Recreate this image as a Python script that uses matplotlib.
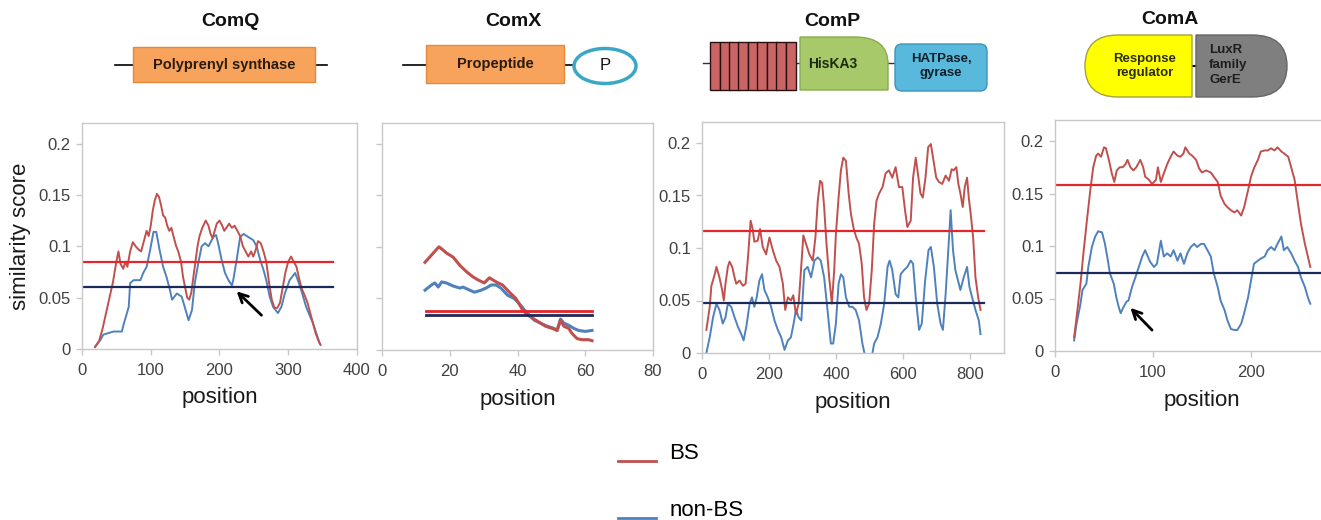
import matplotlib
matplotlib.use("Agg")
import matplotlib.pyplot as plt
from matplotlib.patches import Rectangle, FancyBboxPatch, Ellipse, PathPatch
from matplotlib.path import Path
from matplotlib.lines import Line2D
from matplotlib.legend_handler import HandlerLine2D

plt.rcParams['font.family'] = ['Liberation Sans', 'DejaVu Sans']

# ---- data ----
panel_names = ["ComQ", "ComX", "ComP", "ComA"]

comq_bs_x = [19, 25, 30, 35, 40, 45, 50, 53, 56, 60, 63, 66, 70, 74, 78, 82, 86, 90, 94, 97, 100, 103, 106, 109,
             112, 115, 118, 121, 124, 127, 130, 133, 137, 140, 144, 147, 150, 153, 156, 159, 162, 165, 168, 171,
             175, 180, 184, 187, 190, 193, 196, 200, 204, 207, 210, 214, 218, 222, 226, 230, 234, 238, 242, 246,
             249, 252, 256, 260, 264, 268, 272, 276, 280, 284, 288, 292, 296, 300, 304, 308, 312, 316, 320, 324,
             328, 332, 336, 340, 344, 347]
comq_bs_y = [0.002, 0.008, 0.02, 0.035, 0.05, 0.065, 0.085, 0.095, 0.083, 0.078, 0.085, 0.08, 0.095, 0.104, 0.1,
             0.097, 0.095, 0.105, 0.115, 0.11, 0.12, 0.135, 0.145, 0.151, 0.148, 0.14, 0.13, 0.128, 0.12, 0.115,
             0.118, 0.11, 0.1, 0.095, 0.085, 0.07, 0.06, 0.05, 0.048, 0.055, 0.07, 0.085, 0.1, 0.11, 0.118, 0.125,
             0.12, 0.112, 0.108, 0.115, 0.122, 0.125, 0.12, 0.115, 0.118, 0.122, 0.118, 0.12, 0.115, 0.11, 0.1,
             0.095, 0.09, 0.095, 0.09, 0.095, 0.105, 0.103, 0.095, 0.085, 0.065, 0.048, 0.04, 0.04, 0.045, 0.06,
             0.075, 0.085, 0.09, 0.085, 0.08, 0.068, 0.058, 0.052, 0.045, 0.035, 0.025, 0.015, 0.008, 0.004]
comq_nbs_x = [19, 27, 31, 46, 58, 61, 68, 70, 75, 85, 89, 94, 99, 104, 108, 113, 118, 123, 128, 131, 138, 145,
              152, 155, 160, 164, 169, 174, 179, 184, 191, 195, 198, 203, 208, 213, 218, 220, 225, 230, 235, 242,
              249, 254, 259, 264, 268, 273, 278, 285, 290, 295, 302, 310, 314, 319, 326, 336, 346]
comq_nbs_y = [0.002, 0.009, 0.014, 0.017, 0.017, 0.025, 0.041, 0.064, 0.067, 0.067, 0.074, 0.08, 0.096, 0.114,
              0.114, 0.096, 0.08, 0.07, 0.057, 0.048, 0.054, 0.051, 0.035, 0.028, 0.038, 0.064, 0.083, 0.1, 0.103,
              0.1, 0.109, 0.111, 0.103, 0.087, 0.074, 0.067, 0.062, 0.067, 0.087, 0.109, 0.112, 0.109, 0.106, 0.1,
              0.087, 0.077, 0.067, 0.051, 0.041, 0.035, 0.041, 0.054, 0.067, 0.074, 0.067, 0.057, 0.041, 0.025,
              0.005]
comq_cut_x = [0, 365]
comq_cut_bs = 0.085
comq_cut_nbs = 0.06

comx_bs_x = [12.7, 14.6, 16.8, 18, 19, 21, 23, 24.9, 26.8, 28.3, 30.2, 31.7, 33.7, 35.6, 37.6, 39.5, 41.5, 42.9,
             44.4, 46.3, 48.3, 50.2, 51.7, 52.7, 53.7, 55.1, 56.1, 57.6, 59, 61, 62]
comx_bs_y = [0.085, 0.092, 0.1, 0.097, 0.094, 0.09, 0.082, 0.076, 0.071, 0.068, 0.065, 0.07, 0.066, 0.063, 0.056,
             0.05, 0.039, 0.034, 0.031, 0.027, 0.023, 0.021, 0.019, 0.029, 0.023, 0.021, 0.016, 0.011, 0.01, 0.01,
             0.009]
comx_nbs_x = [12.7, 14.6, 15.6, 16.6, 17.6, 19, 21, 23, 23.9, 25.9, 27.3, 29.3, 30.7, 32.2, 33.7, 35.1, 37.1, 39,
              40.5, 42, 43.4, 44.9, 46.8, 48.8, 50.7, 51.7, 52.7, 53.7, 55.1, 56.6, 58, 60, 62]
comx_nbs_y = [0.058, 0.063, 0.065, 0.061, 0.066, 0.065, 0.062, 0.06, 0.061, 0.058, 0.056, 0.058, 0.06, 0.063,
              0.063, 0.06, 0.053, 0.05, 0.045, 0.039, 0.034, 0.029, 0.026, 0.023, 0.021, 0.019, 0.03, 0.026, 0.024,
              0.021, 0.019, 0.018, 0.019]
comx_cut_x = [13, 62]
comx_cut_bs = 0.038
comx_cut_nbs = 0.034

comp_bs_x = [13, 23, 28, 38, 43, 52, 60, 65, 70, 77, 82, 90, 97, 102, 112, 122, 130, 137, 145, 151, 156, 166, 173,
             181, 191, 201, 211, 221, 231, 241, 248, 256, 265, 272, 280, 288, 295, 302, 310, 320, 330, 338, 345,
             352, 358, 364, 371, 379, 387, 394, 399, 407, 414, 421, 429, 437, 444, 453, 460, 468, 476, 483, 490,
             498, 506, 513, 520, 528, 538, 547, 557, 567, 577, 587, 597, 605, 612, 622, 629, 637, 645, 651, 658,
             666, 674, 682, 690, 698, 706, 716, 726, 736, 744, 750, 758, 764, 770, 777, 783, 790, 795, 802, 808,
             815, 823, 830]
comp_bs_y = [0.022, 0.044, 0.064, 0.075, 0.082, 0.072, 0.06, 0.05, 0.066, 0.082, 0.087, 0.082, 0.072, 0.066, 0.069,
             0.064, 0.066, 0.091, 0.126, 0.118, 0.106, 0.107, 0.118, 0.101, 0.094, 0.11, 0.098, 0.088, 0.082,
             0.066, 0.041, 0.053, 0.05, 0.055, 0.037, 0.047, 0.079, 0.112, 0.104, 0.094, 0.088, 0.11, 0.145, 0.164,
             0.162, 0.139, 0.104, 0.072, 0.047, 0.079, 0.113, 0.148, 0.174, 0.186, 0.183, 0.152, 0.132, 0.117,
             0.11, 0.104, 0.085, 0.053, 0.041, 0.047, 0.079, 0.123, 0.145, 0.152, 0.158, 0.171, 0.174, 0.167,
             0.177, 0.158, 0.158, 0.136, 0.12, 0.126, 0.167, 0.186, 0.167, 0.152, 0.148, 0.167, 0.196, 0.199,
             0.183, 0.167, 0.163, 0.161, 0.169, 0.164, 0.175, 0.174, 0.177, 0.161, 0.152, 0.139, 0.158, 0.167,
             0.148, 0.129, 0.11, 0.072, 0.053, 0.041]
comp_nbs_x = [13, 23, 33, 43, 52, 62, 70, 77, 87, 97, 107, 117, 124, 132, 142, 149, 156, 163, 171, 179, 186, 196,
              206, 216, 226, 236, 246, 256, 265, 273, 280, 288, 296, 305, 315, 325, 335, 345, 354, 364, 374, 384,
              391, 399, 407, 414, 421, 429, 439, 448, 458, 468, 478, 484, 492, 500, 508, 513, 523, 533, 543, 553,
              559, 567, 577, 585, 592, 602, 612, 622, 629, 637, 647, 655, 665, 675, 682, 691, 701, 711, 718, 726,
              734, 741, 748, 755, 763, 770, 780, 790, 797, 805, 815, 825, 830]
comp_nbs_y = [0.0, 0.015, 0.034, 0.047, 0.041, 0.028, 0.034, 0.047, 0.044, 0.034, 0.025, 0.018, 0.012, 0.025,
              0.047, 0.053, 0.044, 0.053, 0.069, 0.075, 0.06, 0.053, 0.044, 0.031, 0.022, 0.015, 0.003, 0.012,
              0.015, 0.028, 0.041, 0.034, 0.031, 0.079, 0.082, 0.072, 0.088, 0.091, 0.088, 0.072, 0.041, 0.009,
              0.009, 0.028, 0.066, 0.075, 0.072, 0.053, 0.044, 0.044, 0.041, 0.031, 0.009, 0.0, -0.005, -0.006,
              0.0, 0.009, 0.015, 0.028, 0.047, 0.082, 0.088, 0.079, 0.056, 0.053, 0.075, 0.079, 0.082, 0.088,
              0.085, 0.053, 0.022, 0.028, 0.069, 0.098, 0.101, 0.082, 0.047, 0.028, 0.022, 0.056, 0.098, 0.136,
              0.098, 0.079, 0.069, 0.06, 0.072, 0.082, 0.063, 0.053, 0.041, 0.031, 0.018]
comp_cut_x = [0, 840]
comp_cut_bs = 0.116
comp_cut_nbs = 0.048

coma_bs_x = [19.5, 22, 26, 29, 32.5, 36, 39, 42, 44, 47, 50, 52, 55, 58, 60.5, 63, 66, 69, 72, 74, 77, 80, 83, 87,
             90, 92, 96, 99, 103, 105, 108, 111, 114.5, 118, 121, 125, 128, 131, 133, 137, 140, 144, 147, 150, 154,
             159, 162, 166, 169, 173, 176, 179.5, 183, 186, 190, 193, 197, 200, 203, 207, 210, 214, 217, 220.5,
             224, 227, 231, 234, 238, 241, 244.5, 248, 251, 255, 258, 260.5]
coma_bs_y = [0.013, 0.032, 0.064, 0.093, 0.124, 0.153, 0.175, 0.186, 0.188, 0.185, 0.194, 0.193, 0.182, 0.169,
             0.161, 0.172, 0.175, 0.175, 0.178, 0.182, 0.175, 0.172, 0.175, 0.182, 0.175, 0.166, 0.163, 0.159,
             0.163, 0.175, 0.161, 0.169, 0.178, 0.185, 0.19, 0.186, 0.185, 0.188, 0.194, 0.188, 0.186, 0.182,
             0.174, 0.17, 0.172, 0.17, 0.166, 0.161, 0.148, 0.14, 0.137, 0.134, 0.132, 0.134, 0.129, 0.137, 0.153,
             0.166, 0.174, 0.182, 0.19, 0.191, 0.191, 0.193, 0.191, 0.194, 0.19, 0.188, 0.185, 0.175, 0.163, 0.14,
             0.121, 0.102, 0.09, 0.08]
coma_nbs_x = [19.5, 22, 26, 28, 32, 34, 37.6, 41, 44, 48, 51, 54, 56, 60, 62.6, 65, 67, 70, 73, 75, 78.6, 82,
              85.5, 89, 92, 94.7, 97, 101, 104, 108, 111, 114.5, 118, 121, 125, 128, 131.6, 135, 138.5, 142, 145,
              149, 152, 155.6, 159, 162, 166, 169, 173, 176, 179.5, 183, 186, 190, 193, 197, 200, 203, 207, 210,
              214, 217, 220.5, 224, 227, 231, 233.5, 237, 241, 244.5, 248, 251, 255, 258, 260.5]
coma_nbs_y = [0.01, 0.026, 0.045, 0.058, 0.064, 0.08, 0.099, 0.109, 0.114, 0.113, 0.102, 0.086, 0.074, 0.064,
              0.051, 0.042, 0.036, 0.042, 0.047, 0.048, 0.061, 0.07, 0.08, 0.09, 0.096, 0.09, 0.085, 0.08, 0.083,
              0.105, 0.09, 0.093, 0.09, 0.096, 0.086, 0.093, 0.083, 0.093, 0.099, 0.102, 0.099, 0.102, 0.102,
              0.096, 0.09, 0.074, 0.061, 0.048, 0.039, 0.029, 0.021, 0.02, 0.02, 0.026, 0.036, 0.051, 0.067,
              0.083, 0.086, 0.088, 0.09, 0.096, 0.099, 0.096, 0.102, 0.109, 0.096, 0.099, 0.093, 0.086, 0.08,
              0.07, 0.061, 0.051, 0.045]
coma_cut_x = [0, 300]
coma_cut_bs = 0.158
coma_cut_nbs = 0.074

# arrows (tail -> head), data coords
comq_arrow = [(264, 0.031), (222, 0.058)]
coma_arrow = [(101, 0.018), (75, 0.043)]

xlims = [(0, 400), (0, 80), (0, 900), (0, 300)]
xticks = [[0, 100, 200, 300, 400], [0, 20, 40, 60, 80], [0, 200, 400, 600, 800], [0, 100, 200]]
yticks = [0, 0.05, 0.1, 0.15, 0.2]
ytick_labels = ["0", "0.05", "0.1", "0.15", "0.2"]

BS_COL = '#c0504d'
NBS_COL = '#4f81bd'
CUT_BS = '#e3262b'
CUT_NBS = '#1c2a5a'

W, H = 1321, 520
fig = plt.figure(figsize=(W / 100, H / 100), dpi=100)


def px_axes(left, right, top, bottom):
    return fig.add_axes([left / W, 1 - bottom / H, (right - left) / W, (bottom - top) / H])


boxes = [(82, 357, 123, 349), (382, 653, 123, 350), (702, 1004, 122, 353), (1055, 1349, 120, 351)]
series = [
    (comq_bs_x, comq_bs_y, comq_nbs_x, comq_nbs_y, comq_cut_x, comq_cut_bs, comq_cut_nbs),
    (comx_bs_x, comx_bs_y, comx_nbs_x, comx_nbs_y, comx_cut_x, comx_cut_bs, comx_cut_nbs),
    (comp_bs_x, comp_bs_y, comp_nbs_x, comp_nbs_y, comp_cut_x, comp_cut_bs, comp_cut_nbs),
    (coma_bs_x, coma_bs_y, coma_nbs_x, coma_nbs_y, coma_cut_x, coma_cut_bs, coma_cut_nbs),
]

axes = []
for i, (box, s) in enumerate(zip(boxes, series)):
    ax = px_axes(*box)
    bx, by, nx, ny, cx, cb, cn = s
    lw = 2.2 if i == 1 else 1.4
    ax.plot(nx, ny, color=NBS_COL, lw=lw)
    ax.plot(bx, by, color=BS_COL, lw=lw)
    ax.plot(cx, [cb, cb], color=CUT_BS, lw=1.6 if i != 1 else 2.0)
    ax.plot(cx, [cn, cn], color=CUT_NBS, lw=1.6 if i != 1 else 2.0)
    ax.set_xlim(*xlims[i])
    ax.set_ylim(0, 0.22)
    ax.set_xticks(xticks[i])
    ax.set_yticks(yticks)
    if i == 1:
        ax.set_yticklabels([])
    else:
        ax.set_yticklabels(ytick_labels)
    for sp in ax.spines.values():
        sp.set_color('#c8c8c8')
        sp.set_linewidth(1.0)
    ax.tick_params(direction='out', length=4, width=1, color='#c8c8c8', labelcolor='#404040',
                   labelsize=12)
    ax.tick_params(axis='x', pad=6)
    ax.tick_params(axis='y', pad=4)
    ax.set_xlabel('position', fontsize=16, color='#1a1a1a')
    ax.xaxis.set_label_coords(0.5, -0.17)
    axes.append(ax)

axes[0].set_ylabel('similarity score', fontsize=16, color='#1a1a1a')
axes[0].yaxis.set_label_coords(-0.185, 0.5)

for ax, (tail, head) in [(axes[0], comq_arrow), (axes[3], coma_arrow)]:
    ax.annotate('', xy=head, xytext=tail,
                arrowprops=dict(arrowstyle='->', color='black', lw=2, mutation_scale=16))

# ---- domain diagrams (pixel space overlay) ----
ov = fig.add_axes([0, 0, 1, 1])
ov.set_xlim(0, W)
ov.set_ylim(H, 0)
ov.axis('off')
ov.patch.set_visible(False)

title_pos = [(230, 22), (513, 21), (832, 22), (1170, 20)]
for name, (tx, ty) in zip(panel_names, title_pos):
    ov.text(tx, ty, name, ha='center', va='center', fontsize=14, fontweight='bold', color='#111111')

ORANGE = '#f7a35c'
ORANGE_EDGE = '#e3893a'
TXT = '#2b1a0e'

# ComQ
ov.plot([115, 327], [65, 65], color='black', lw=1.2, zorder=1)
ov.add_patch(Rectangle((133, 47), 182, 35, facecolor=ORANGE, edgecolor=ORANGE_EDGE, lw=1, zorder=2))
ov.text(224, 65, 'Polyprenyl synthase', ha='center', va='center', fontsize=10.5, fontweight='bold',
        color=TXT, zorder=3)

# ComX
ov.plot([403, 575], [65, 65], color='black', lw=1.2, zorder=1)
ov.add_patch(Rectangle((426, 45), 138, 38, facecolor=ORANGE, edgecolor=ORANGE_EDGE, lw=1, zorder=2))
ov.text(495, 64, 'Propeptide', ha='center', va='center', fontsize=10.5, fontweight='bold', color=TXT, zorder=3)
ov.add_patch(Ellipse((605, 66), 62, 35, facecolor='white', edgecolor='#3aa7c4', lw=2.5, zorder=2))
ov.text(605, 66, 'P', ha='center', va='center', fontsize=12, color='#111111', zorder=3)

# ComP
ov.plot([703, 895], [63, 63], color='#333333', lw=1.0, zorder=1)
tm_left = [710, 720, 729, 738, 748, 757, 767, 776, 786]
for xl in tm_left:
    ov.add_patch(Rectangle((xl, 42), 9.5, 48, facecolor='#c96565', edgecolor='#2a1010', lw=1, zorder=2))
his = Path([(800, 37), (855, 37), (888, 37), (888, 64), (888, 90), (800, 90), (800, 37)],
           [Path.MOVETO, Path.LINETO, Path.CURVE3, Path.CURVE3, Path.LINETO, Path.LINETO, Path.CLOSEPOLY])
ov.add_patch(PathPatch(his, facecolor='#a8c96a', edgecolor='#8aab4e', lw=1, zorder=2))
ov.text(833, 64, 'HisKA3', ha='center', va='center', fontsize=10, fontweight='bold', color='#1d2a10', zorder=3)
ov.add_patch(FancyBboxPatch((895, 44), 92, 47, boxstyle='round,pad=0,rounding_size=7',
                            facecolor='#58b9dc', edgecolor='#3d94b5', lw=1, zorder=2))
ov.text(941, 66, 'HATPase,\ngyrase', ha='center', va='center', fontsize=9.5, fontweight='bold',
        color='#10202a', linespacing=1.2, zorder=3)

# ComA
ov.plot([1190, 1198], [66, 66], color='black', lw=1.5, zorder=1)
resp = Path([(1192, 35), (1118, 35), (1085, 35), (1085, 66), (1085, 97), (1118, 97), (1192, 97), (1192, 35)],
            [Path.MOVETO, Path.LINETO, Path.CURVE3, Path.CURVE3, Path.CURVE3, Path.CURVE3, Path.LINETO,
             Path.CLOSEPOLY])
ov.add_patch(PathPatch(resp, facecolor='#ffff00', edgecolor='#a3a33a', lw=1, zorder=2))
ov.text(1145, 66, 'Response\nregulator', ha='center', va='center', fontsize=9.5, fontweight='bold',
        color='#2b2b10', linespacing=1.3, zorder=3)
lux = Path([(1196, 35), (1252, 35), (1287, 35), (1287, 66), (1287, 97), (1252, 97), (1196, 97), (1196, 35)],
           [Path.MOVETO, Path.LINETO, Path.CURVE3, Path.CURVE3, Path.CURVE3, Path.CURVE3, Path.LINETO,
            Path.CLOSEPOLY])
ov.add_patch(PathPatch(lux, facecolor='#7f7f7f', edgecolor='#666666', lw=1, zorder=2))
ov.text(1209, 65, 'LuxR\nfamily\nGerE', ha='left', va='center', fontsize=9.5, fontweight='bold',
        color='#1e1e1e', linespacing=1.35, zorder=3)


# ---- legend (keys sit a little below the text, as in the original) ----
class LowLine(HandlerLine2D):
    def create_artists(self, legend, orig_handle, xdescent, ydescent, width, height, fontsize, trans):
        arts = super().create_artists(legend, orig_handle, xdescent, ydescent, width, height, fontsize, trans)
        for a in arts:
            a.set_ydata([y - 0.45 * fontsize for y in a.get_ydata()])
        return arts


handles = [Line2D([], [], color=BS_COL, lw=2), Line2D([], [], color=NBS_COL, lw=2)]
fig.legend(handles, ['BS', 'non-BS'], loc='upper left', bbox_to_anchor=(618 / W, 1 - 443 / H),
           frameon=False, fontsize=16, handlelength=1.7, handletextpad=0.6, labelspacing=1.6,
           borderpad=0, borderaxespad=0, handler_map={Line2D: LowLine()})

fig.savefig('out.png', dpi=100)
